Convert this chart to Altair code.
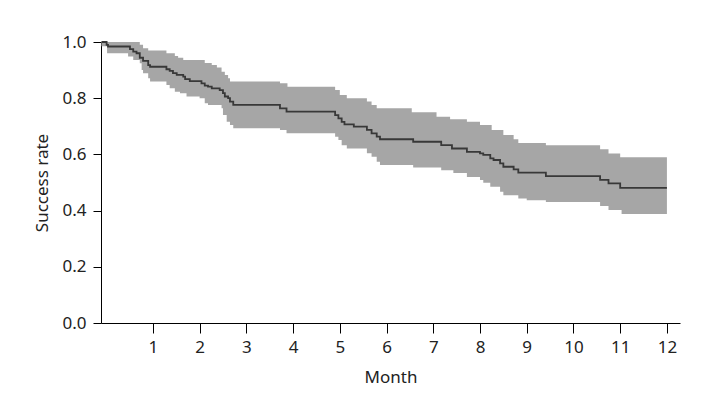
import altair as alt
import pandas as pd
from bisect import bisect_right

# Kaplan-Meier style estimate (step starts: month, value)
est_month = [-0.1, 0.01, 0.04, 0.51, 0.58, 0.65, 0.72, 0.79, 0.90, 0.94, 1.29, 1.36, 1.43, 1.51,
             1.65, 1.69, 1.79, 2.04, 2.11, 2.18, 2.26, 2.43, 2.50, 2.54, 2.61, 2.65, 2.72, 3.72,
             3.86, 4.90, 4.97, 5.04, 5.10, 5.30, 5.58, 5.68, 5.79, 5.86, 6.57, 7.17, 7.40, 7.72,
             8.00, 8.07, 8.22, 8.29, 8.43, 8.50, 8.72, 8.82, 9.41, 10.57, 10.75, 11.0]
est_rate = [1.0, 0.99, 0.984, 0.975, 0.966, 0.96, 0.944, 0.933, 0.918, 0.912, 0.903, 0.897, 0.889,
            0.883, 0.877, 0.868, 0.861, 0.853, 0.845, 0.841, 0.835, 0.829, 0.818, 0.806, 0.80,
            0.788, 0.776, 0.764, 0.752, 0.74, 0.728, 0.716, 0.707, 0.699, 0.687, 0.675, 0.663,
            0.654, 0.645, 0.633, 0.621, 0.609, 0.604, 0.598, 0.586, 0.58, 0.568, 0.556, 0.547,
            0.535, 0.523, 0.509, 0.497, 0.481]

# Upper confidence bound
up_month = [-0.1, 0.72, 0.79, 0.9, 1.29, 1.47, 1.54, 1.65, 2.11, 2.26, 2.37, 2.47, 2.54, 2.61,
            2.65, 3.72, 3.88, 4.9, 5.0, 5.15, 5.58, 5.68, 5.79, 6.54, 7.07, 7.36, 7.72, 8.0,
            8.25, 8.5, 8.72, 8.82, 9.41, 10.57, 10.75, 11.0]
up_rate = [1.0, 0.99, 0.978, 0.97, 0.96, 0.95, 0.944, 0.936, 0.925, 0.918, 0.909, 0.894, 0.883,
           0.871, 0.859, 0.853, 0.841, 0.829, 0.811, 0.80, 0.788, 0.776, 0.764, 0.75, 0.734,
           0.725, 0.716, 0.705, 0.687, 0.669, 0.654, 0.641, 0.633, 0.618, 0.603, 0.59]

# Lower confidence bound
lo_month = [-0.1, 0.02, 0.47, 0.58, 0.72, 0.76, 0.79, 0.90, 0.94, 1.29, 1.36, 1.47, 1.58, 1.72,
            2.0, 2.11, 2.18, 2.47, 2.50, 2.58, 2.65, 2.72, 3.72, 3.86, 4.90, 4.97, 5.04, 5.15,
            5.58, 5.68, 5.79, 5.86, 6.57, 7.17, 7.43, 7.72, 8.0, 8.07, 8.22, 8.43, 8.5, 8.82,
            9.0, 9.41, 10.57, 10.75, 11.03]
lo_rate = [0.985, 0.96, 0.948, 0.936, 0.924, 0.90, 0.889, 0.871, 0.859, 0.847, 0.835, 0.823,
           0.818, 0.806, 0.80, 0.782, 0.776, 0.764, 0.74, 0.716, 0.705, 0.693, 0.687, 0.675,
           0.663, 0.651, 0.633, 0.621, 0.604, 0.592, 0.574, 0.562, 0.553, 0.544, 0.534, 0.52,
           0.509, 0.499, 0.485, 0.467, 0.455, 0.443, 0.437, 0.431, 0.416, 0.402, 0.388]

end_month = 12.0
x_ticks = list(range(1, 13))
y_ticks = [0.0, 0.2, 0.4, 0.6, 0.8, 1.0]


def step_value(months, values, t):
    i = bisect_right(months, t) - 1
    return values[max(i, 0)]


times = sorted(set(est_month + up_month + lo_month + [end_month]))
df = pd.DataFrame({
    "month": times,
    "rate": [step_value(est_month, est_rate, t) for t in times],
    "upper": [step_value(up_month, up_rate, t) for t in times],
    "lower": [step_value(lo_month, lo_rate, t) for t in times],
})

FONT = "Noto Sans"

x_enc = alt.X(
    "month:Q",
    scale=alt.Scale(domain=[-0.11, 12.28], nice=False, zero=False),
    axis=alt.Axis(values=x_ticks, title="Month", tickSize=10, labelPadding=6,
                  titlePadding=14, format="d"),
)
y_enc = alt.Y(
    "upper:Q",
    scale=alt.Scale(domain=[0, 1], nice=False),
    axis=alt.Axis(values=y_ticks, title="Success rate", tickSize=8, labelPadding=7,
                  titlePadding=10, format=".1f"),
)

band = alt.Chart(df).mark_area(interpolate="step-after", color="#a6a6a6", opacity=1).encode(
    x=x_enc, y=y_enc, y2="lower:Q"
)
line = alt.Chart(df).mark_line(interpolate="step-after", color="#383838", strokeWidth=1.8).encode(
    x="month:Q", y="rate:Q"
)

chart = (band + line).properties(
    width=579,
    height=281,
    padding={"left": 93, "top": 34, "right": 10, "bottom": 70},
    autosize=alt.AutoSizeParams(type="none"),
).configure_view(stroke=None).configure_axis(
    grid=False,
    domainColor="#000000",
    tickColor="#000000",
    domainWidth=1,
    tickWidth=1,
    labelFont=FONT,
    titleFont=FONT,
    labelFontSize=17,
    titleFontSize=17,
    labelColor="#222222",
    titleColor="#222222",
    titleFontWeight="normal",
)

chart.save("out.html", embed_options={"renderer": "svg", "actions": False})
